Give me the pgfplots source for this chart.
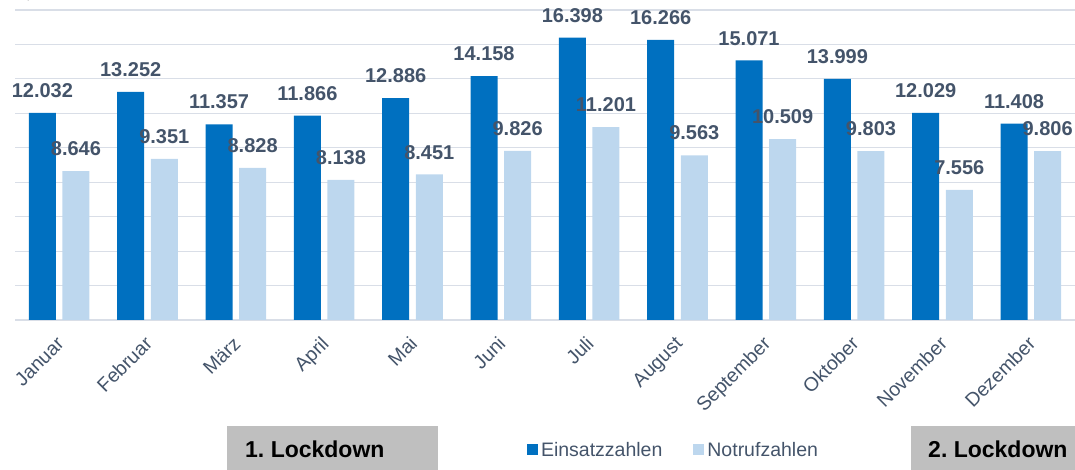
\documentclass[border=0pt]{standalone}
\usepackage{pgfplots}
\pgfplotsset{compat=1.18}
\usepackage{fontspec}
\setmainfont{Liberation Sans}
\frenchspacing
\definecolor{dblue}{HTML}{0070C0}
\definecolor{lblue}{HTML}{BDD7EE}
\definecolor{txt}{HTML}{44546A}
\definecolor{gridc}{HTML}{D9DEE7}
\definecolor{boxg}{HTML}{BFBFBF}
\begin{document}
\begin{tikzpicture}
\useasboundingbox (0pt,0pt) rectangle (1075pt,470pt);
\fill[boxg] (227pt,0pt) rectangle (438pt,44pt);
\node[anchor=west, inner sep=0pt, font=\bfseries\fontsize{23}{23}\selectfont] at (245pt,21pt) {1. Lockdown};
\fill[boxg] (911pt,0pt) rectangle (1075pt,44pt);
\node[anchor=west, inner sep=0pt, font=\bfseries\fontsize{23}{23}\selectfont] at (928pt,21pt) {2. Lockdown};
\begin{axis}[
  at={(15pt,150pt)}, anchor=south west,
  scale only axis, width=1060pt, height=310pt,
  xmin=-0.5, xmax=11.5, ymin=0, ymax=18000,
  ybar=6.6pt, bar width=27pt,
  xtick={0,...,11},
  xticklabels={Januar,Februar,März,April,Mai,Juni,Juli,August,September,Oktober,November,Dezember},
  ytick={0,2000,...,18000}, yticklabels={},
  ymajorgrids, grid style={gridc, line width=1.2pt},
  axis line style={draw=none},
  major tick length=0pt,
  clip=false,
  /pgf/number format/1000 sep={.},
  /pgf/number format/assume math mode=true,
  xticklabel style={font=\fontsize{19.5}{19.5}\selectfont, text=txt, inner sep=0pt, anchor=base east, xshift=6pt, yshift=-25pt, rotate=45},
  nodes near coords,
  every node near coord/.append style={font=\bfseries\fontsize{20}{20}\selectfont, text=txt, inner sep=0pt, yshift=15pt},
  legend style={at={(0.48,-0.419)}, anchor=west, draw=none, fill=none, legend columns=2,
    font=\fontsize{19.5}{20}\selectfont, text=txt,
    nodes={inner sep=3pt},
    /tikz/every even column/.append style={column sep=28pt}},
  legend image code/.code={\fill[#1] (0pt,-5.5pt) rectangle (11pt,5.5pt);},
]
\addplot[fill=dblue, draw=none] coordinates {(0,12032) (1,13252) (2,11357) (3,11866) (4,12886) (5,14158) (6,16398) (7,16266) (8,15071) (9,13999) (10,12029) (11,11408)};
\addplot[fill=lblue, draw=none] coordinates {(0,8646) (1,9351) (2,8828) (3,8138) (4,8451) (5,9826) (6,11201) (7,9563) (8,10509) (9,9803) (10,7556) (11,9806)};
\legend{Einsatzzahlen,Notrufzahlen}
\end{axis}
\end{tikzpicture}
\end{document}
